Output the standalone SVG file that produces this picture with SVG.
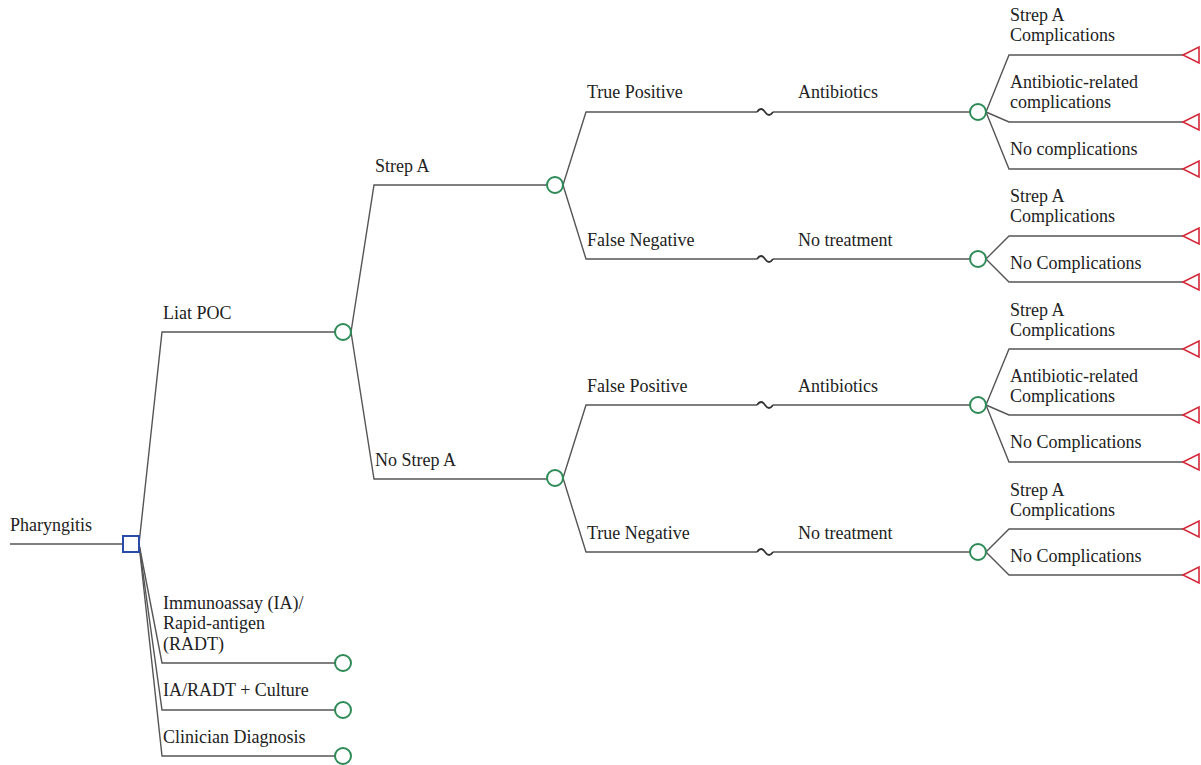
<svg xmlns="http://www.w3.org/2000/svg" width="1201" height="765" viewBox="0 0 1201 765">
<style>
.e{fill:none;stroke:#555;stroke-width:1.4}
.w{fill:none;stroke:#333;stroke-width:1.8}
.c{fill:#fff;stroke:#2e8b57;stroke-width:2}
.d{fill:#fff;stroke:#2a4aa8;stroke-width:2}
.t{fill:#fff;stroke:#d42a3a;stroke-width:1.6}
text{font-family:'Liberation Serif','Times New Roman',serif;font-size:18px;fill:#222}
</style>
<defs>
<path id="tri" d="M0,0 L16,-8 L16,8 Z" class="t"/>
<circle id="ch" r="8" class="c"/>
<path id="brk" d="M0,0 Q4,-6 8,0 Q12,6 16,0" class="w"/>
</defs>
<rect width="1201" height="765" fill="#fff"/>
<g id="connectors">
<path class="e" d="M10,544 H123"/>
<path class="e" d="M139,544 L162,332 H335"/>
<path class="e" d="M139,544 L162,663 H335"/>
<path class="e" d="M139,544 L162,710 H335"/>
<path class="e" d="M139,544 L162,756 H335"/>
<path class="e" d="M351,332 L374,185 H547"/>
<path class="e" d="M351,332 L374,479 H547"/>
<path class="e" d="M563,185 L586,112 H757 M773,112 H970"/>
<path class="e" d="M563,185 L586,259 H757 M773,259 H970"/>
<path class="e" d="M563,478 L586,405 H757 M773,405 H970"/>
<path class="e" d="M563,478 L586,552 H757 M773,552 H970"/>
<use href="#brk" x="757" y="112"/>
<use href="#brk" x="757" y="259"/>
<use href="#brk" x="757" y="405"/>
<use href="#brk" x="757" y="552"/>
<path class="e" d="M986,112 L1009,55 H1183"/>
<path class="e" d="M986,112 L1009,122 H1183"/>
<path class="e" d="M986,112 L1009,169 H1183"/>
<path class="e" d="M986,259 L1009,236 H1183"/>
<path class="e" d="M986,259 L1009,282 H1183"/>
<path class="e" d="M986,405 L1009,349 H1183"/>
<path class="e" d="M986,405 L1009,415 H1183"/>
<path class="e" d="M986,405 L1009,462 H1183"/>
<path class="e" d="M986,552 L1009,529 H1183"/>
<path class="e" d="M986,552 L1009,575 H1183"/>
</g>
<g id="root">
<text x="10" y="531">Pharyngitis</text>
<rect class="d" x="123" y="536" width="16" height="16"/>
</g>
<g id="liat">
<text x="163" y="319">Liat POC</text>
<use href="#ch" x="343" y="332"/>
</g>
<g id="ia">
<text x="163" y="609">Immunoassay (IA)/</text>
<text x="163" y="629">Rapid-antigen</text>
<text x="163" y="650">(RADT)</text>
<use href="#ch" x="343" y="663"/>
</g>
<g id="iaculture">
<text x="163" y="696">IA/RADT + Culture</text>
<use href="#ch" x="343" y="710"/>
</g>
<g id="clinician">
<text x="163" y="743">Clinician Diagnosis</text>
<use href="#ch" x="343" y="756"/>
</g>
<g id="strepa">
<text x="375" y="172">Strep A</text>
<use href="#ch" x="555" y="185"/>
</g>
<g id="nostrepa">
<text x="375" y="466">No Strep A</text>
<use href="#ch" x="555" y="478"/>
</g>
<g id="tp">
<text x="587" y="98">True Positive</text>
<text x="798" y="98">Antibiotics</text>
<use href="#ch" x="978" y="112"/>
</g>
<g id="fn">
<text x="587" y="246">False Negative</text>
<text x="798" y="246">No treatment</text>
<use href="#ch" x="978" y="259"/>
</g>
<g id="fp">
<text x="587" y="392">False Positive</text>
<text x="798" y="392">Antibiotics</text>
<use href="#ch" x="978" y="405"/>
</g>
<g id="tn">
<text x="587" y="539">True Negative</text>
<text x="798" y="539">No treatment</text>
<use href="#ch" x="978" y="552"/>
</g>
<g id="tp-out">
<text x="1010" y="21">Strep A</text>
<text x="1010" y="41">Complications</text>
<use href="#tri" x="1183" y="55"/>
<text x="1010" y="88">Antibiotic-related</text>
<text x="1010" y="108">complications</text>
<use href="#tri" x="1183" y="122"/>
<text x="1010" y="155">No complications</text>
<use href="#tri" x="1183" y="169"/>
</g>
<g id="fn-out">
<text x="1010" y="202">Strep A</text>
<text x="1010" y="222">Complications</text>
<use href="#tri" x="1183" y="236"/>
<text x="1010" y="269">No Complications</text>
<use href="#tri" x="1183" y="282"/>
</g>
<g id="fp-out">
<text x="1010" y="316">Strep A</text>
<text x="1010" y="336">Complications</text>
<use href="#tri" x="1183" y="349"/>
<text x="1010" y="382">Antibiotic-related</text>
<text x="1010" y="402">Complications</text>
<use href="#tri" x="1183" y="415"/>
<text x="1010" y="448">No Complications</text>
<use href="#tri" x="1183" y="462"/>
</g>
<g id="tn-out">
<text x="1010" y="496">Strep A</text>
<text x="1010" y="516">Complications</text>
<use href="#tri" x="1183" y="529"/>
<text x="1010" y="562">No Complications</text>
<use href="#tri" x="1183" y="575"/>
</g>
</svg>
